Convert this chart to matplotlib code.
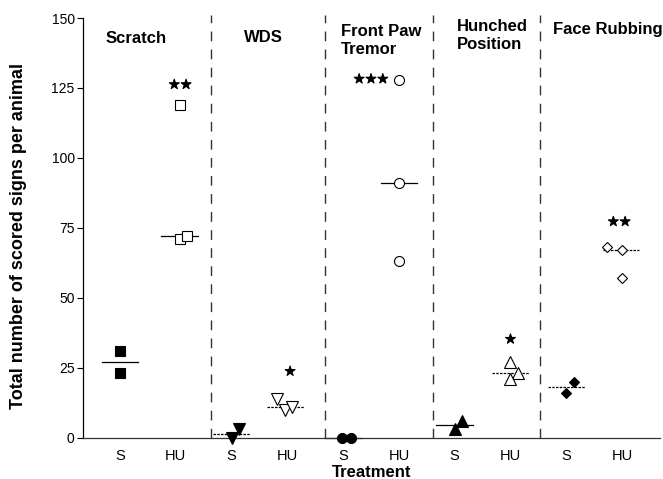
import numpy as np
import matplotlib
matplotlib.use("Agg")
import matplotlib.pyplot as plt
import matplotlib.patheffects as pe

plt.rcParams['font.family'] = ['Liberation Sans', 'DejaVu Sans']

# panels and data
signs = ["Scratch", "WDS", "Front Paw\nTremor", "Hunched\nPosition", "Face Rubbing"]
treatments = ["S", "HU"]

scratch_s = [31, 23]
scratch_hu = [119, 71, 72]
wds_s = [0, 3]
wds_hu = [14, 10, 11]
tremor_s = [0, 0]
tremor_hu = [128, 91, 63]
hunched_s = [3, 6]
hunched_hu = [27, 23, 21]
face_s = [16, 20]
face_hu = [68, 67, 57]

sig_labels = ["★★", "★", "★★★", "★", "★★"]
sig_values = [126, 23.5, 128, 35, 77]

groups = [scratch_s, scratch_hu, wds_s, wds_hu, tremor_s, tremor_hu,
          hunched_s, hunched_hu, face_s, face_hu]

# layout / style
markers = ['s', 's', 'v', 'v', 'o', 'o', '^', '^', 'D', 'D']
msizes = [7.4, 7.4, 8, 8, 7.2, 7.2, 8, 8, 5.2, 5.2]
jitter = [[0, 0], [0.08, 0.08, 0.21], [0, 0.13], [-0.18, -0.05, 0.09],
          [-0.02, 0.14], [0, 0, 0], [0, 0.13], [0, 0.13, 0],
          [0, 0.14], [-0.27, 0, 0]]
med_shift = [0, 0.07, 0, -0.04, 0, 0, 0, 0, 0, -0.02]
med_style = ['-', '-', (0, (2, 1)), (0, (2, 1)), '-', '-', '-', (0, (2, 1)),
             (0, (2, 1)), (0, (2, 1))]
sig_dx = [0.08, 0.05, -0.18, 0, -0.05]
sig_ha = ['center', 'center', 'right', 'center', 'center']
dividers = [2.63, 4.67, 6.61, 8.53]
title_x = [0.74, 3.22, 4.96, 7.04, 8.76]
title_y = [142.5, 142.9, 142, 143.6, 146]

fig = plt.figure(figsize=(6.63, 4.79), dpi=100)
ax = fig.add_axes([83 / 663, 1 - 437.7 / 479, 577 / 663, 419.7 / 479])

positions = np.arange(1, 11)
for i, vals in enumerate(groups):
    x0 = positions[i]
    face = 'black' if i % 2 == 0 else 'white'
    xs = x0 + np.array(jitter[i])
    med = np.median(vals)
    c = x0 + med_shift[i]
    ax.plot([c - 0.33, c + 0.33], [med, med], color='black', lw=0.9,
            linestyle=med_style[i], zorder=2, clip_on=False)
    ax.plot(xs, vals, linestyle='none', marker=markers[i], ms=msizes[i],
            mfc=face, mec='black', mew=0.8, zorder=3, clip_on=False)

for j in range(5):
    hu_x = positions[2 * j + 1]
    ax.text(hu_x + sig_dx[j], sig_values[j], sig_labels[j], ha=sig_ha[j],
            va='center', fontsize=9.5, family='DejaVu Sans', color='black',
            path_effects=[pe.withStroke(linewidth=0.7, foreground='black')])
    ax.text(title_x[j], title_y[j], signs[j], ha='left', va='center',
            fontsize=12, fontweight='bold', linespacing=1.25)

for d in dividers:
    ax.plot([d, d], [0, 151], color='#333333', lw=1.0,
            linestyle=(0, (7, 6)), zorder=1, clip_on=False)

ax.set_xlim(0.337, 10.68)
ax.set_ylim(0, 150)
ax.set_xticks(positions)
ax.set_xticklabels(treatments * 5, fontsize=10.5)
ax.set_yticks([0, 25, 50, 75, 100, 125, 150])
ax.tick_params(axis='x', length=0, pad=8)
ax.tick_params(axis='y', direction='out', length=4, width=0.8, labelsize=10, pad=2)

for s in ['top', 'right']:
    ax.spines[s].set_visible(False)
ax.spines['left'].set_linewidth(0.9)
ax.spines['bottom'].set_linewidth(0.9)
ax.spines['bottom'].set_color('#333333')

ax.set_ylabel("Total number of scored signs per animal", fontsize=13, fontweight='bold')
ax.yaxis.set_label_coords(-0.097, 0.48)
ax.set_xlabel("Treatment", fontsize=12, fontweight='bold')
ax.xaxis.set_label_coords(0.5, -0.065)

fig.savefig("out.png", dpi=100)
